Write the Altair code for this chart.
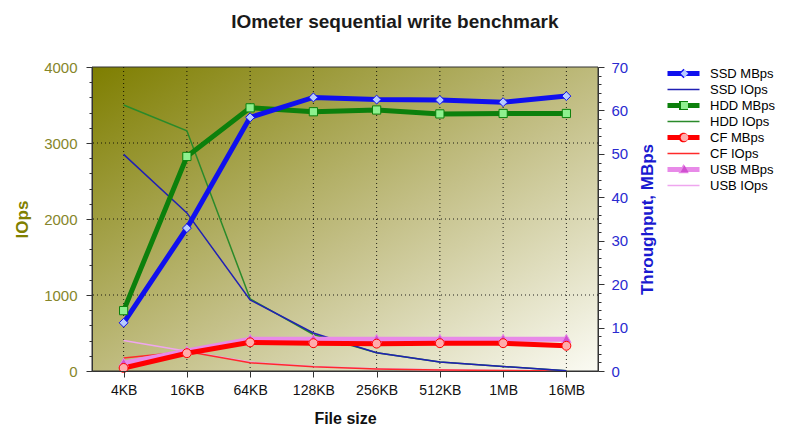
import altair as alt
import pandas as pd

FONT = "Liberation Sans"

# ---------------- data ----------------
sizes = ["4KB", "16KB", "64KB", "128KB", "256KB", "512KB", "1MB", "16MB"]

ssd_mbps = [11.1, 32.9, 58.4, 63.0, 62.5, 62.4, 61.9, 63.3]
hdd_mbps = [13.9, 49.4, 60.6, 59.7, 60.1, 59.2, 59.3, 59.3]
cf_mbps = [0.7, 4.1, 6.6, 6.4, 6.3, 6.4, 6.4, 5.8]
usb_mbps = [1.8, 4.6, 7.3, 7.3, 7.3, 7.3, 7.3, 7.3]

ssd_iops = [2850, 2080, 935, 500, 240, 120, 60, 4]
hdd_iops = [3500, 3160, 950, 480, 240, 118, 59, 4]
cf_iops = [170, 255, 108, 55, 26, 13, 6, 1]
usb_iops = [400, 260, 117, 58, 29, 15, 7, 1]

series_names = ["SSD MBps", "SSD IOps", "HDD MBps", "HDD IOps",
                "CF MBps", "CF IOps", "USB MBps", "USB IOps"]
line_colors = ["#1010ee", "#2020b4", "#0c800c", "#2a8a2a",
               "#ff0000", "#ff2a2a", "#e88ae8", "#efa6ef"]
marker_fills = ["#b8ccff", "transparent", "#8ef08e", "transparent",
                "#ffacac", "transparent", "#d050d0", "transparent"]

iops_grid = [1000, 2000, 3000]
iops_ticks = list(range(0, 4001, 200))
mbps_ticks = list(range(0, 71, 2))

# legend symbols: line bar (+ marker outline) and marker fills
BAR_THICK = "M-8,-1.25H8V1.25H-8Z"
BAR_THIN = "M-8,-0.375H8V0.375H-8Z"
legend_shapes = [
    BAR_THICK + "M-2.4,0L0,-2.4L2.4,0L0,2.4Z", BAR_THIN,
    BAR_THICK + "M-2.25,-2.25H2.25V2.25H-2.25Z", BAR_THIN,
    BAR_THICK + "M-2.4,0A2.4,2.4,0,1,1,2.4,0A2.4,2.4,0,1,1,-2.4,0Z", BAR_THIN,
    BAR_THICK + "M0,-2.7L2.6,1.9H-2.6Z", BAR_THIN,
]
marker_shapes = [
    "M-1.9,0L0,-1.9L1.9,0L0,1.9Z", "circle",
    "M-1.75,-1.75H1.75V1.75H-1.75Z", "circle",
    "M-1.9,0A1.9,1.9,0,1,1,1.9,0A1.9,1.9,0,1,1,-1.9,0Z", "circle",
    "M0,-2.1L2,1.4H-2Z", "circle",
]
marker_names = [n + " " for n in series_names]

iops_rows = []
for name, vals in (("USB IOps", usb_iops), ("CF IOps", cf_iops),
                   ("HDD IOps", hdd_iops), ("SSD IOps", ssd_iops)):
    for i, (s, v) in enumerate(zip(sizes, vals)):
        iops_rows.append({"size": s, "idx": i, "series": name, "iops": v})
iops_df = pd.DataFrame(iops_rows)

mbps_rows = []
for name, vals in (("USB MBps", usb_mbps), ("CF MBps", cf_mbps),
                   ("HDD MBps", hdd_mbps), ("SSD MBps", ssd_mbps)):
    for i, (s, v) in enumerate(zip(sizes, vals)):
        mbps_rows.append({"size": s, "idx": i, "series": name,
                          "marker": name + " ", "mbps": v})
mbps_df = pd.DataFrame(mbps_rows)

# ---------------- encodings ----------------
x_scale = alt.Scale(type="point", domain=sizes, padding=0.5)
x_axis = alt.Axis(title="File size", titleFont=FONT, titleFontSize=16,
                  titleFontWeight="bold", titleColor="#111", titlePadding=13,
                  labelFont=FONT, labelFontSize=14, labelColor="#111",
                  labelAngle=0, labelPadding=6, tickSize=6, tickColor="#333",
                  domainColor="#333", grid=False, zindex=1)


def xenc():
    return alt.X("size:N", scale=x_scale, axis=x_axis)


left_axis = alt.Axis(
    orient="left", title="IOps", titleFont=FONT, titleFontSize=17,
    titleFontWeight="bold", titleColor="#808000", titlePadding=12,
    values=iops_ticks, format="d",
    labelExpr="datum.value % 1000 === 0 ? datum.label : ''",
    labelOverlap=False, labelFont=FONT, labelFontSize=15,
    labelColor="#86862a", labelPadding=9,
    tickSize={"condition": {"test": "datum.value % 1000 === 0", "value": 6},
              "value": 3},
    tickColor="#333", domainColor="#333", grid=False, zindex=1)

right_axis = alt.Axis(
    orient="right", title="Throughput, MBps", titleAngle=270,
    titleBaseline="top", titleFont=FONT,
    titleFontSize=17, titleFontWeight="bold", titleColor="#1a1ad0",
    titlePadding=12, values=mbps_ticks, format="d",
    labelExpr="datum.value % 10 === 0 ? datum.label : ''",
    labelOverlap=False, labelFont=FONT, labelFontSize=15,
    labelColor="#2a2ad0", labelPadding=7,
    tickSize={"condition": {"test": "datum.value % 10 === 0", "value": 6},
              "value": 3},
    tickColor="#333", domainColor="#333", grid=False, zindex=1)

y_left_scale = alt.Scale(domain=[0, 4000], nice=False)
y_right_scale = alt.Scale(domain=[0, 70], nice=False)

stroke_enc = alt.Stroke("series:N",
                        scale=alt.Scale(domain=series_names, range=line_colors),
                        legend=None)

legA = alt.Legend(title=None, orient="none", legendX=585, legendY=0,
                  symbolSize=16, symbolStrokeWidth=0, symbolOpacity=1,
                  labelFont=FONT, labelFontSize=13, labelColor="#000",
                  labelOffset=20, rowPadding=2, padding=0, zindex=0)
legB = alt.Legend(title=None, orient="none", legendX=586, legendY=0,
                  symbolSize=16, symbolStrokeWidth=0, symbolOpacity=1,
                  labelFont=FONT, labelFontSize=13, labelExpr="' '",
                  labelOffset=20, rowPadding=2, padding=0, zindex=1)

# ---------------- layers ----------------
gradient = alt.LinearGradient(
    gradient="linear", x1=0, y1=0, x2=1, y2=1,
    stops=[alt.GradientStop(color="#7e7e00", offset=0),
           alt.GradientStop(color="#c4c088", offset=0.55),
           alt.GradientStop(color="#fbfbf4", offset=1)])

bg = alt.Chart(pd.DataFrame({"k": [0]})).mark_rect(
    fill=gradient, stroke="#333", strokeWidth=1
).encode(x=alt.value(0), x2=alt.value("width"),
         y=alt.value(0), y2=alt.value("height"))

vgrid = alt.Chart(pd.DataFrame({"size": sizes})).mark_rule(
    color="#000", strokeDash=[1, 3], strokeWidth=1, opacity=0.85
).encode(x=xenc())

hgrid = alt.Chart(pd.DataFrame({"iops": iops_grid})).mark_rule(
    color="#000", strokeDash=[1, 3], strokeWidth=1, opacity=0.85
).encode(y=alt.Y("iops:Q", scale=y_left_scale, axis=left_axis))

iops_lines = alt.Chart(iops_df).mark_line(strokeWidth=1.5).encode(
    x=xenc(),
    y=alt.Y("iops:Q", scale=y_left_scale, axis=left_axis),
    stroke=stroke_enc,
    order=alt.Order("idx:Q"),
)

mbps_lines = alt.Chart(mbps_df).mark_line(strokeWidth=5).encode(
    x=xenc(),
    y=alt.Y("mbps:Q", scale=y_right_scale, axis=right_axis),
    stroke=stroke_enc,
    order=alt.Order("idx:Q"),
)

mbps_points = alt.Chart(mbps_df).mark_point(
    filled=True, size=22, opacity=1, strokeWidth=1
).encode(
    x=xenc(),
    y=alt.Y("mbps:Q", scale=y_right_scale, axis=right_axis),
    stroke=stroke_enc,
    shape=alt.Shape("marker:N",
                    scale=alt.Scale(domain=marker_names, range=marker_shapes),
                    legend=legB),
    fill=alt.Fill("marker:N",
                  scale=alt.Scale(domain=marker_names, range=marker_fills),
                  legend=legB),
)

legend_layer = alt.Chart(iops_df).transform_filter("false").mark_point(
    filled=True, size=16, opacity=1
).encode(
    shape=alt.Shape("series:N",
                    scale=alt.Scale(domain=series_names, range=legend_shapes),
                    legend=legA),
    fill=alt.Fill("series:N",
                  scale=alt.Scale(domain=series_names, range=line_colors),
                  legend=legA),
)

left_group = alt.layer(bg, vgrid, hgrid, iops_lines)
right_group = alt.layer(mbps_lines, mbps_points)

chart = alt.layer(left_group, legend_layer, right_group).resolve_scale(
    y="independent", shape="independent", fill="independent"
).properties(
    width=506, height=304,
    title=alt.Title("IOmeter sequential write benchmark", font=FONT,
                    fontSize=19, fontWeight="bold", color="#1a1a1a",
                    anchor="middle", frame="bounds", offset=28),
).configure_view(stroke=None).configure(background="white")

chart.save("out.html", embed_options={"renderer": "svg", "actions": False})
